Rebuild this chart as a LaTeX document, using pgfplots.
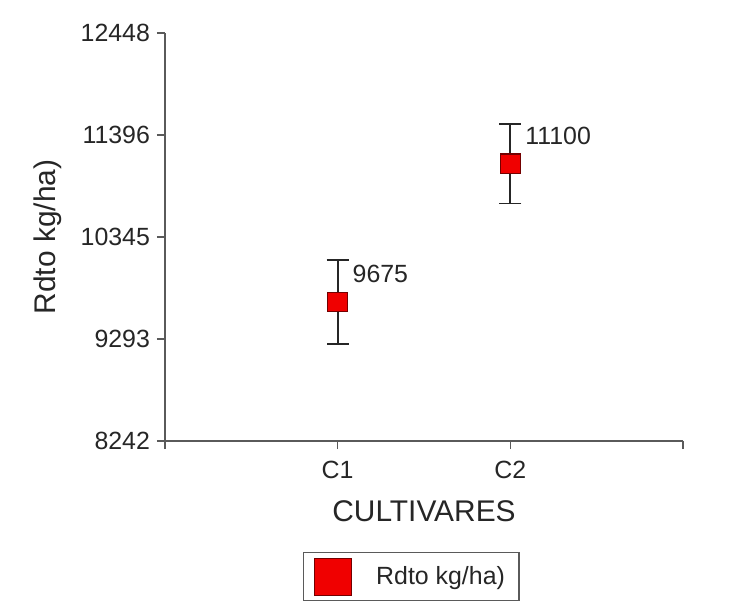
\documentclass[border=0pt]{standalone}
\usepackage{fontspec}
\setmainfont{Liberation Sans}
\usepackage{pgfplots}
\usepackage{pgfplotstable}
\pgfplotsset{compat=1.18}
\definecolor{ink}{HTML}{262626}
\definecolor{axgray}{HTML}{5A5A5A}
\definecolor{mkred}{HTML}{F00000}

\pgfplotstableread{
x y e lab
1 9675 430 9675
2 11100 410 11100
}\rdto

\begin{document}
\begin{tikzpicture}
\useasboundingbox (-82.5bp,-80bp) rectangle (283.5bp,220.5bp);
\clip (-82.5bp,-80bp) rectangle (283.5bp,220.5bp);
\begin{axis}[
  at={(0,0)}, anchor=south west,
  scale only axis, width=259bp, height=204bp,
  xmin=0, xmax=3, ymin=8242, ymax=12448,
  axis lines=left,
  axis line style={-, draw=axgray, line width=1bp},
  xtick={0,1,2,3}, xticklabels={,C1,C2,},
  ytick={8242,9293.5,10345,11396.5,12448},
  yticklabels={8242,9293,10345,11396,12448},
  scaled y ticks=false,
  tick align=outside, major tick length=4bp,
  tick style={draw=axgray, line width=0.8bp},
  ticklabel style={font=\fontsize{12.5}{14}\selectfont, text=ink},
  xticklabel style={yshift=-2.5bp},
  xlabel={CULTIVARES}, ylabel={Rdto kg/ha)},
  label style={font=\fontsize{15}{18}\selectfont, text=ink},
  xlabel style={at={(axis description cs:0.5,-0.1716)}, anchor=center},
  ylabel style={at={(axis description cs:-0.226,0.5)}, anchor=center},
  legend style={at={(axis description cs:0.2664,-0.272)}, anchor=north west,
    draw=axgray, line width=0.6bp, font=\fontsize{12.5}{15}\selectfont,
    text=ink, inner xsep=5bp, inner ysep=2.5bp},
  legend image code/.code={
    \draw[fill=mkred, draw=red!45!black, line width=0.6bp]
      (0bp,-9.25bp) rectangle (18.5bp,9.25bp);
    \path[draw=none, fill=none] (0bp,0bp) rectangle (29bp,0.1bp);},
  clip=false,
]
\addplot[only marks, mark=square*, mark size=4.9bp,
  mark options={fill=mkred, draw=red!45!black, line width=0.6bp},
  error bars/.cd, y dir=both, y explicit,
  error bar style={line width=0.9bp, draw=black!85},
  error mark options={rotate=90, mark size=5.5bp, line width=0.9bp, draw=black!85},
  ]
  table[x=x, y=y, y error=e] {\rdto};
\addlegendentry{Rdto kg/ha)}
\addplot[only marks, mark=none, forget plot,
  nodes near coords, point meta=explicit symbolic,
  every node near coord/.append style={anchor=west, xshift=4bp, yshift=14bp,
    font=\fontsize{12.5}{14}\selectfont, text=ink}]
  table[x=x, y=y, meta=lab] {\rdto};
\end{axis}
\end{tikzpicture}
\end{document}
